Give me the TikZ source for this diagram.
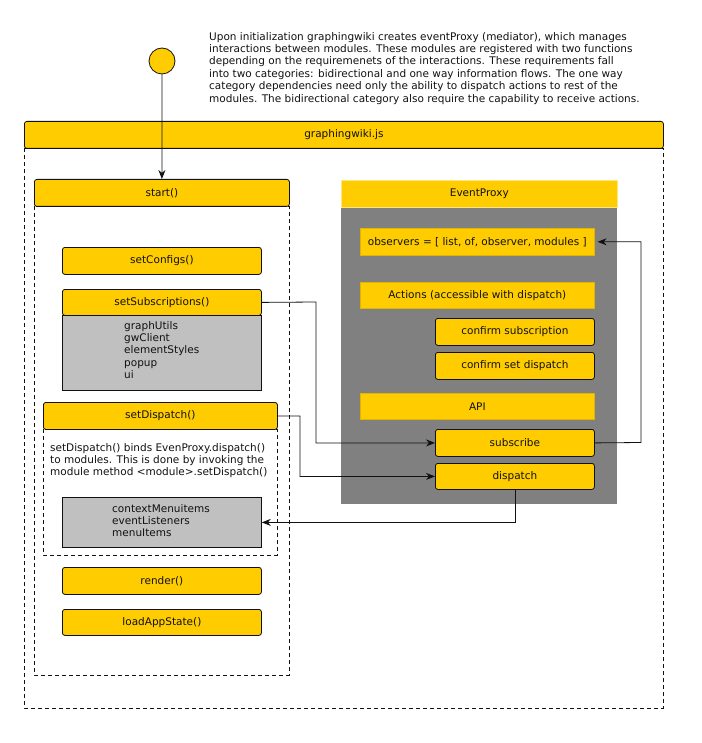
\documentclass[tikz,border=0pt]{standalone}
\usepackage{fontspec}
\setmainfont{DejaVu Sans}
\usetikzlibrary{arrows.meta}
\definecolor{ycol}{HTML}{FFCC00}
\definecolor{ydark}{HTML}{E0B400}
\definecolor{ylight}{HTML}{FFE680}
\definecolor{gbody}{HTML}{808080}
\definecolor{gbox}{HTML}{C0C0C0}
\definecolor{ink}{HTML}{111111}
\begin{document}
\begin{tikzpicture}[x=1pt,y=-1pt,
  every node/.style={font=\fontsize{10.5}{12.4}\selectfont, text=ink, inner sep=0pt},
  ybox/.style={draw=ink, fill=ycol, rounded corners=2.5pt, line width=0.8pt, anchor=north west},
  pbox/.style={draw=ydark, fill=ycol, line width=0.6pt, anchor=north west},
  gray/.style={draw=ink, fill=gbox, line width=0.8pt, anchor=north west},
  dashbox/.style={draw=ink, line width=0.7pt, dash pattern=on 4pt off 3pt},
  conn/.style={draw=ink, line width=0.8pt},
  arr/.style={conn, -{Stealth[length=9pt,width=7pt]}}
]
\useasboundingbox (0,0) rectangle (701,743);
% top circle and text
\node[circle, draw=ink, fill=ycol, line width=0.8pt, minimum size=26pt] (init) at (162,61) {};
\node[anchor=north west, align=left] (intro) at (209,32) {Upon initialization graphingwiki creates eventProxy (mediator), which manages\\
interactions between modules. These modules are registered with two functions\\
depending on the requiremenets of the interactions. These requirements fall\\
into two categories: bidirectional and one way information flows. The one way\\
category dependencies need only the ability to dispatch actions to rest of the\\
modules. The bidirectional category also require the capability to receive actions.};
% graphingwiki.js
\draw[dashbox] (24,148) rectangle (663,708);
\node[ybox, minimum width=639pt, minimum height=27pt] (gw) at (24,121) {graphingwiki.js};
% start
\draw[dashbox] (34,206) rectangle (289,675);
\node[ybox, minimum width=255pt, minimum height=27pt] (start) at (34,179) {start()};
\node[ybox, minimum width=199pt, minimum height=27pt] (setconfigs) at (62,247) {setConfigs()};
\node[gray, minimum width=199pt, minimum height=75pt] (subsbox) at (62,315) {};
\node[anchor=north west, align=left] (subslist) at (124,321) {graphUtils\\gwClient\\elementStyles\\popup\\ui};
\node[ybox, minimum width=199pt, minimum height=26pt] (setsubs) at (62,289) {setSubscriptions()};
% setDispatch
\draw[dashbox] (43,429) rectangle (277,555);
\node[ybox, minimum width=234pt, minimum height=27pt] (setdisp) at (43,402) {setDispatch()};
\node[anchor=north west, align=left] (disptext) at (50,443) {setDispatch() binds EvenProxy.dispatch()\\to modules. This is done by invoking the\\module method <module>.setDispatch()};
\node[gray, minimum width=199pt, minimum height=50pt] (dispbox) at (62,497) {};
\node[anchor=north west, align=left] (displist) at (112,504) {contextMenuitems\\eventListeners\\menuItems};
\node[ybox, minimum width=199pt, minimum height=27pt] (render) at (62,567) {render()};
\node[ybox, minimum width=199pt, minimum height=26pt] (load) at (62,609) {loadAppState()};
% EventProxy
\fill[gbody] (341,207) rectangle (617,504);
\node[draw=ylight, fill=ycol, line width=0.6pt, anchor=north west, minimum width=276pt, minimum height=27pt] (ep) at (341,180) {EventProxy};
\node[pbox, minimum width=234pt, minimum height=27pt] (obs) at (360,228) {observers = [ list, of, observer, modules ]};
\node[pbox, minimum width=234pt, minimum height=26pt] (actions) at (360,282) {Actions (accessible with dispatch)};
\node[ybox, minimum width=159pt, minimum height=27pt] (confsub) at (435,318) {confirm subscription};
\node[ybox, minimum width=159pt, minimum height=27pt] (confdisp) at (435,352) {confirm set dispatch};
\node[pbox, minimum width=234pt, minimum height=26pt] (api) at (360,393) {API};
\node[ybox, minimum width=159pt, minimum height=27pt] (subscribe) at (435,429) {subscribe};
\node[ybox, minimum width=159pt, minimum height=26pt] (dispatch) at (435,463) {dispatch};
% connectors
\draw[arr] (init.south) -- (start.north);
\draw[arr] (setsubs.east) -- (316,302) |- (subscribe.west);
\draw[arr] (setdisp.east) -- (300,416) |- (dispatch.west);
\draw[arr] (subscribe.east) -- (641,442.5) |- ([xshift=3pt]obs.east);
\draw[arr] (dispatch.south) |- (dispbox.east);
\end{tikzpicture}
\end{document}
